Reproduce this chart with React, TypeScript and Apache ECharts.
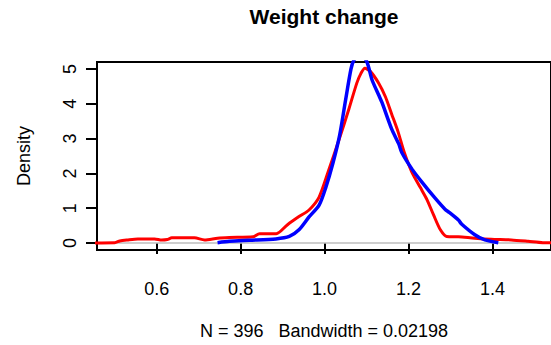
import React, { useEffect, useRef } from "react";
import * as echarts from "echarts";

// Red density curve (x, density)
const redX = [0.44, 0.5, 0.512, 0.53, 0.555, 0.595, 0.612, 0.625, 0.636, 0.69, 0.714, 0.745, 0.773, 0.83, 0.845, 0.885, 0.911, 0.939, 0.963, 0.987, 1.01, 1.034, 1.058, 1.077, 1.087, 1.096, 1.109, 1.129, 1.145, 1.16, 1.175, 1.19, 1.208, 1.228, 1.244, 1.26, 1.276, 1.291, 1.319, 1.358, 1.397, 1.445, 1.485, 1.52, 1.56];
const redY = [0.005, 0.01, 0.06, 0.09, 0.12, 0.12, 0.085, 0.1, 0.15, 0.15, 0.09, 0.14, 0.16, 0.18, 0.27, 0.27, 0.52, 0.76, 0.95, 1.32, 2.1, 2.95, 3.85, 4.6, 4.88, 5.02, 4.93, 4.59, 4.2, 3.7, 3.2, 2.6, 2.04, 1.6, 1.25, 0.8, 0.38, 0.19, 0.18, 0.14, 0.11, 0.09, 0.05, 0.01, 0.005];

// Blue density curve (x, density)
const blueX = [0.745, 0.773, 0.821, 0.884, 0.916, 0.939, 0.963, 0.987, 1.003, 1.02, 1.036, 1.05, 1.063, 1.07, 1.085, 1.101, 1.113, 1.129, 1.137, 1.16, 1.177, 1.184, 1.208, 1.232, 1.264, 1.287, 1.297, 1.319, 1.327, 1.358, 1.382, 1.414];
const blueY = [0.01, 0.05, 0.08, 0.12, 0.19, 0.38, 0.75, 1.09, 1.6, 2.3, 3.1, 4.1, 5.0, 5.25, 5.45, 5.2, 4.69, 4.25, 4.03, 3.27, 2.84, 2.6, 2.13, 1.75, 1.28, 0.97, 0.88, 0.66, 0.54, 0.24, 0.09, 0.01];

// Axis ticks
const xTicks = [0.6, 0.8, 1.0, 1.2, 1.4];
const yTicks = [0, 1, 2, 3, 4, 5];
const X_MIN = 0.4577;
const X_MAX = 1.5396;
const Y_MIN = -0.199;
const Y_MAX = 5.199;

const TITLE = "Weight change";
const SUBTITLE = "N = 396   Bandwidth = 0.02198";
const Y_NAME = "Density";

const FONT = "Liberation Sans";

export default function App() {
  const ref = useRef<HTMLDivElement>(null);
  useEffect(() => {
    if (!ref.current) return;
    const chart = echarts.init(ref.current, null, { renderer: "svg" });
    const zip = (xs: number[], ys: number[]) => xs.map((x, i) => [x, ys[i]]);
    chart.setOption({
      animation: false,
      backgroundColor: "#ffffff",
      title: {
        text: TITLE,
        left: 324,
        top: 6,
        padding: 0,
        textAlign: "center",
        textStyle: { fontFamily: FONT, fontSize: 21, fontWeight: "bold", color: "#000" },
      },
      grid: {
        left: 97,
        top: 62,
        right: -2,
        bottom: 93,
        show: true,
        borderColor: "#000",
        borderWidth: 2,
        backgroundColor: "transparent",
      },
      xAxis: {
        type: "value",
        min: X_MIN,
        max: X_MAX,
        axisLine: { show: false },
        splitLine: { show: false },
        axisTick: {
          show: true,
          customValues: xTicks,
          length: 11,
          lineStyle: { color: "#000", width: 2 },
        },
        axisLabel: {
          customValues: xTicks,
          formatter: (v: number) => v.toFixed(1),
          fontFamily: FONT,
          fontSize: 18,
          color: "#000",
          margin: 30,
        },
        name: SUBTITLE,
        nameLocation: "middle",
        nameGap: 72,
        nameTextStyle: { fontFamily: FONT, fontSize: 18, color: "#000" },
      },
      yAxis: {
        type: "value",
        min: Y_MIN,
        max: Y_MAX,
        axisLine: { show: false },
        splitLine: { show: false },
        axisTick: {
          show: true,
          customValues: yTicks,
          length: 11,
          lineStyle: { color: "#000", width: 2 },
        },
        axisLabel: {
          customValues: yTicks,
          rotate: 90,
          fontFamily: FONT,
          fontSize: 18,
          color: "#000",
          margin: 18,
        },
        name: Y_NAME,
        nameLocation: "middle",
        nameRotate: 90,
        nameGap: 64,
        nameTextStyle: { fontFamily: FONT, fontSize: 18, color: "#000" },
      },
      series: [
        {
          name: "zero",
          type: "line",
          data: [[X_MIN, 0], [X_MAX, 0]],
          showSymbol: false,
          lineStyle: { color: "#bebebe", width: 1.5 },
          silent: true,
          z: 1,
        },
        {
          name: "red",
          type: "line",
          data: zip(redX, redY),
          showSymbol: false,
          smooth: 0.25,
          lineStyle: { color: "#ff0000", width: 3 },
          z: 2,
        },
        {
          name: "blue",
          type: "line",
          data: zip(blueX, blueY),
          showSymbol: false,
          smooth: 0.25,
          lineStyle: { color: "#0000ff", width: 3.5 },
          z: 3,
        },
      ],
    });
    return () => chart.dispose();
  }, []);
  return (
    <div
      ref={ref}
      style={{ position: "fixed", left: 0, top: 0, width: 551, height: 345, background: "#fff" }}
    />
  );
}
